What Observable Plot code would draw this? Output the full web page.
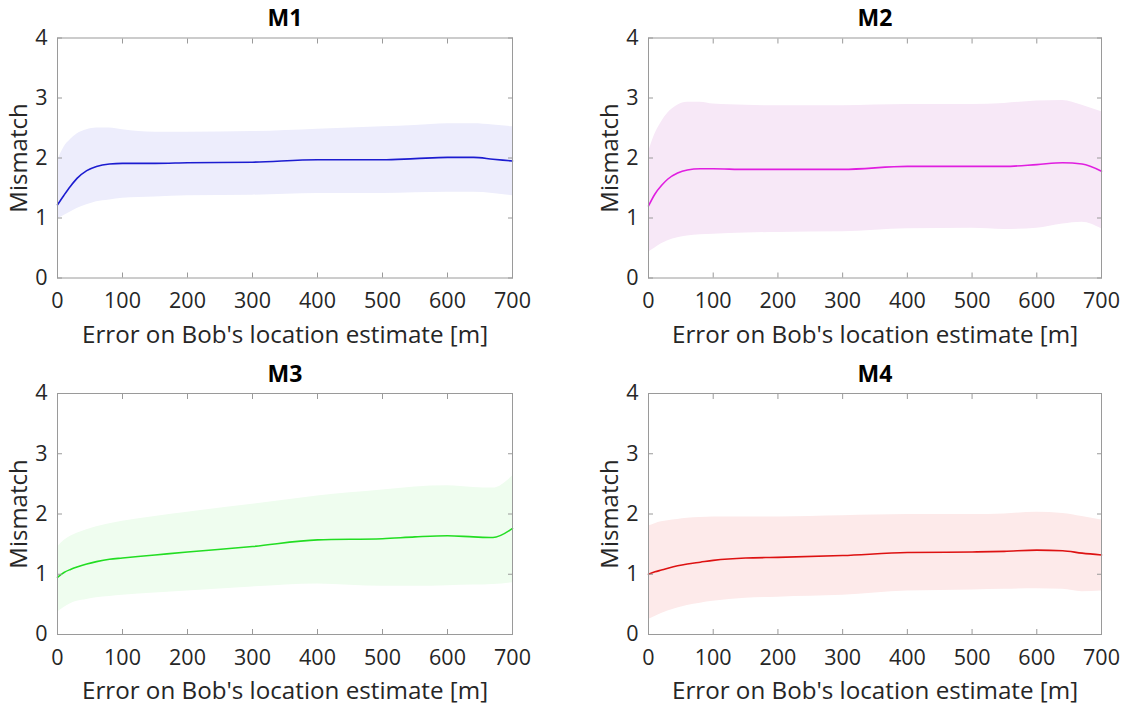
<!DOCTYPE html>
<html>
<head>
<meta charset="utf-8">
<script src="https://cdn.jsdelivr.net/npm/d3@7"></script>
<script src="https://cdn.jsdelivr.net/npm/@observablehq/plot@0.6"></script>
<style>
  html, body { margin: 0; padding: 0; background: #fff; }
  #wrap { position: relative; width: 1129px; height: 708px; overflow: hidden; }
  .panel { position: absolute; }
  svg { font-family: "Open Sans", "Noto Sans", sans-serif; }
</style>
</head>
<body>
<div id="wrap"></div>
<script>
const xs = [0, 10, 20, 30, 45, 60, 80, 100, 150, 200, 300, 400, 500, 550, 600, 640, 670, 700];
const xTicks = [0, 100, 200, 300, 400, 500, 600, 700];
const yTicks = [0, 1, 2, 3, 4];
const xLabel = "Error on Bob's location estimate [m]";
const yLabel = "Mismatch";
const titles = ["M1", "M2", "M3", "M4"];

const m1Mean = [1.22, 1.38, 1.53, 1.66, 1.79, 1.86, 1.90, 1.91, 1.91, 1.92, 1.93, 1.97, 1.97, 1.99, 2.01, 2.01, 1.98, 1.95];
const m1Hi   = [1.95, 2.18, 2.31, 2.40, 2.47, 2.50, 2.50, 2.47, 2.43, 2.43, 2.44, 2.48, 2.52, 2.54, 2.57, 2.57, 2.55, 2.52];
const m1Lo   = [0.98, 1.04, 1.10, 1.16, 1.22, 1.27, 1.30, 1.33, 1.35, 1.37, 1.38, 1.41, 1.41, 1.42, 1.43, 1.43, 1.41, 1.37];

const m2Mean = [1.20, 1.40, 1.54, 1.65, 1.75, 1.80, 1.82, 1.82, 1.81, 1.81, 1.81, 1.86, 1.86, 1.86, 1.89, 1.92, 1.90, 1.78];
const m2Hi   = [2.10, 2.40, 2.60, 2.75, 2.88, 2.93, 2.93, 2.90, 2.88, 2.87, 2.87, 2.89, 2.89, 2.91, 2.95, 2.96, 2.88, 2.77];
const m2Lo   = [0.43, 0.50, 0.57, 0.62, 0.67, 0.70, 0.72, 0.73, 0.75, 0.76, 0.77, 0.82, 0.83, 0.81, 0.83, 0.90, 0.93, 0.82];

const m3Mean = [0.95, 1.03, 1.08, 1.12, 1.17, 1.21, 1.25, 1.27, 1.32, 1.37, 1.46, 1.57, 1.59, 1.62, 1.64, 1.62, 1.61, 1.76];
const m3Hi   = [1.45, 1.56, 1.63, 1.68, 1.74, 1.79, 1.84, 1.88, 1.96, 2.03, 2.16, 2.30, 2.40, 2.45, 2.47, 2.44, 2.43, 2.63];
const m3Lo   = [0.37, 0.45, 0.51, 0.55, 0.58, 0.61, 0.63, 0.65, 0.69, 0.72, 0.79, 0.84, 0.80, 0.80, 0.81, 0.82, 0.83, 0.86];

const m4Mean = [1.00, 1.04, 1.07, 1.10, 1.14, 1.17, 1.20, 1.23, 1.27, 1.28, 1.31, 1.36, 1.37, 1.38, 1.40, 1.39, 1.35, 1.32];
const m4Hi   = [1.80, 1.84, 1.87, 1.89, 1.91, 1.93, 1.94, 1.95, 1.95, 1.95, 1.97, 1.99, 1.99, 2.00, 2.03, 2.01, 1.96, 1.90];
const m4Lo   = [0.25, 0.30, 0.35, 0.39, 0.44, 0.48, 0.52, 0.55, 0.60, 0.62, 0.65, 0.72, 0.74, 0.75, 0.76, 0.75, 0.71, 0.72];

const lineColors = ["#1c1cd0", "#e01ee0", "#22dd22", "#dd1212"];
const bandColors = ["#ededfc", "#f7e8f7", "#effdef", "#fdeaea"];

const series = [
  [m1Mean, m1Hi, m1Lo],
  [m2Mean, m2Hi, m2Lo],
  [m3Mean, m3Hi, m3Lo],
  [m4Mean, m4Hi, m4Lo]
];

// panel placement: [left, top, width, height, marginLeft, marginRight, marginTop, marginBottom]
const layout = [
  [0,   0,   560, 354, 57, 48, 37.5, 76.5],
  [560, 0,   569, 354, 88, 28, 37.5, 76.5],
  [0,   354, 560, 354, 57, 48, 39,   74],
  [560, 354, 569, 354, 88, 28, 39,   74]
];

const wrap = document.getElementById("wrap");
const tickColor = "#262626";
const boxColor = "#9a9a9a";

series.forEach(([mean, hi, lo], i) => {
  const data = xs.map((x, k) => ({x, mean: mean[k], hi: hi[k], lo: lo[k]}));
  const [left, top, width, height, ml, mr, mt, mb] = layout[i];
  const plot = Plot.plot({
    width, height,
    marginLeft: ml, marginRight: mr, marginTop: mt, marginBottom: mb,
    style: {fontFamily: "'Open Sans', 'Noto Sans', sans-serif", fontSize: "21.5px", background: "#fff", color: tickColor, overflow: "visible"},
    x: {domain: [0, 700], ticks: xTicks},
    y: {domain: [0, 4], ticks: yTicks},
    marks: [
      Plot.areaY(data, {x: "x", y1: "lo", y2: "hi", fill: bandColors[i], curve: "monotone-x"}),
      Plot.lineY(data, {x: "x", y: "mean", stroke: lineColors[i], strokeWidth: 1.6, curve: "monotone-x"}),
      Plot.axisX({anchor: "bottom", ticks: xTicks, tickFormat: "d", tickSize: -5, tickPadding: 20, stroke: boxColor, fill: tickColor, label: null}),
      Plot.axisX({anchor: "top", ticks: xTicks, tickSize: -5, tickFormat: () => "", stroke: boxColor, label: null}),
      Plot.axisY({anchor: "left", ticks: yTicks, tickFormat: "d", tickSize: -5, tickPadding: 15, stroke: boxColor, fill: tickColor, label: null}),
      Plot.axisY({anchor: "right", ticks: yTicks, tickSize: -5, tickFormat: () => "", stroke: boxColor, label: null}),
      Plot.frame({stroke: boxColor, strokeWidth: 1}),
      Plot.text([titles[i]], {text: d => d, frameAnchor: "top", dy: -19, fontSize: 23, fontWeight: "bold", fill: "#000", lineAnchor: "middle"}),
      Plot.text([xLabel], {text: d => d, frameAnchor: "bottom", dy: 57, fontSize: 24.2, fill: tickColor, lineAnchor: "middle"}),
      Plot.text([yLabel], {text: d => d, frameAnchor: "left", dx: -38, rotate: -90, fontSize: 24, fill: tickColor, textAnchor: "middle", lineAnchor: "middle"})
    ]
  });
  const div = document.createElement("div");
  div.className = "panel";
  div.style.left = left + "px";
  div.style.top = top + "px";
  div.appendChild(plot);
  wrap.appendChild(div);
});
</script>
</body>
</html>
